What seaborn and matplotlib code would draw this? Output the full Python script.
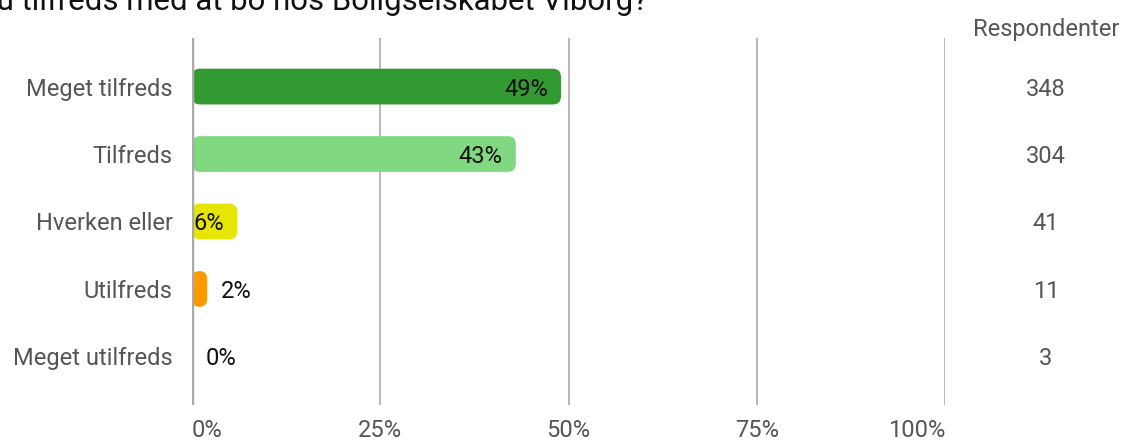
import matplotlib
matplotlib.use("Agg")
import matplotlib.pyplot as plt
import seaborn as sns
import pandas as pd
from matplotlib.patches import FancyBboxPatch

categories = ["Meget tilfreds", "Tilfreds", "Hverken eller", "Utilfreds", "Meget utilfreds"]
percent = [49, 43, 6, 2, 0]
respondents = [348, 304, 41, 11, 3]
colors = ["#339933", "#80d980", "#e6e600", "#ff9900", "#cc0000"]
xticks = [0, 25, 50, 75, 100]
xtick_labels = ["0%", "25%", "50%", "75%", "100%"]
title = "Er du tilfreds med at bo hos Boligselskabet Viborg?"

sns.set_theme(style="white")
plt.rcParams["font.family"] = ["Roboto", "DejaVu Sans"]

W, H = 1124, 442
FS = 17
fig = plt.figure(figsize=(W / 100, H / 100), dpi=100)
ax_left, ax_right, ax_top, ax_bottom = 192, 945, 38, 405
ax = fig.add_axes([ax_left / W, (H - ax_bottom) / H, (ax_right - ax_left) / W, (ax_bottom - ax_top) / H])

df = pd.DataFrame({"cat": categories, "pct": percent})
sns.barplot(data=df, x="pct", y="cat", hue="cat", palette=colors, order=categories,
            orient="h", width=0.53, saturation=1, legend=False, ax=ax, zorder=2)
ax.set_xlim(0, 100)
ax.set_ylim(4.72, -0.72)

px_per_x = (ax_right - ax_left) / 100.0
px_per_y = (ax_bottom - ax_top) / 5.44
radius_px = 8
for p in list(ax.patches):
    x0, y0 = p.get_x(), p.get_y()
    w, h = p.get_width(), p.get_height()
    fc = p.get_facecolor()
    p.set_visible(False)
    if w <= 0:
        continue
    r = min(radius_px, w * px_per_x / 2) / px_per_x
    fb = FancyBboxPatch((x0, y0), w, h,
                        boxstyle=f"round,pad=0,rounding_size={r}",
                        mutation_aspect=px_per_x / px_per_y,
                        facecolor=fc, edgecolor="none", zorder=2)
    ax.add_patch(fb)

for x in xticks[1:]:
    ax.axvline(x, color="#aaaaaa", lw=1.2, zorder=1)
ax.axvline(0, color="#aaaaaa", lw=2.5, zorder=3)

for sp in ax.spines.values():
    sp.set_visible(False)

ax.set_xticks(xticks)
ax.set_xticklabels(xtick_labels)
ax.tick_params(axis="x", length=0, pad=10, labelsize=FS, labelcolor="#555555")
ax.tick_params(axis="y", length=0, pad=14, labelsize=FS, labelcolor="#555555")
tl = ax.get_xticklabels()
tl[0].set_horizontalalignment("left")
tl[0].set_x(-0.4)
tl[-1].set_horizontalalignment("right")
for t in ax.get_yticklabels():
    t.set_verticalalignment("center_baseline")
ax.set_xlabel("")
ax.set_ylabel("")

pad_units = 13 / px_per_x
for i, (v, n) in enumerate(zip(percent, respondents)):
    label = f"{v}%"
    if v >= 5:
        ax.text(v - pad_units, i, label, ha="right", va="center_baseline", fontsize=FS, color="#111111", zorder=4)
    else:
        ax.text(v + 14 / px_per_x, i, label, ha="left", va="center_baseline", fontsize=FS, color="#111111", zorder=4)
    yfig = (H - (ax_top + (i + 0.72) * px_per_y)) / H
    fig.text(1046 / W, yfig, str(n), ha="center", va="center_baseline", fontsize=FS, color="#555555")

fig.text(1046 / W, (H - 27) / H, "Respondenter", ha="center", va="center_baseline", fontsize=FS, color="#555555")
fig.text(648 / W, (H - 10) / H, title, ha="right", va="baseline", fontsize=22.4, color="#111111")

fig.savefig("out.png", dpi=100)
